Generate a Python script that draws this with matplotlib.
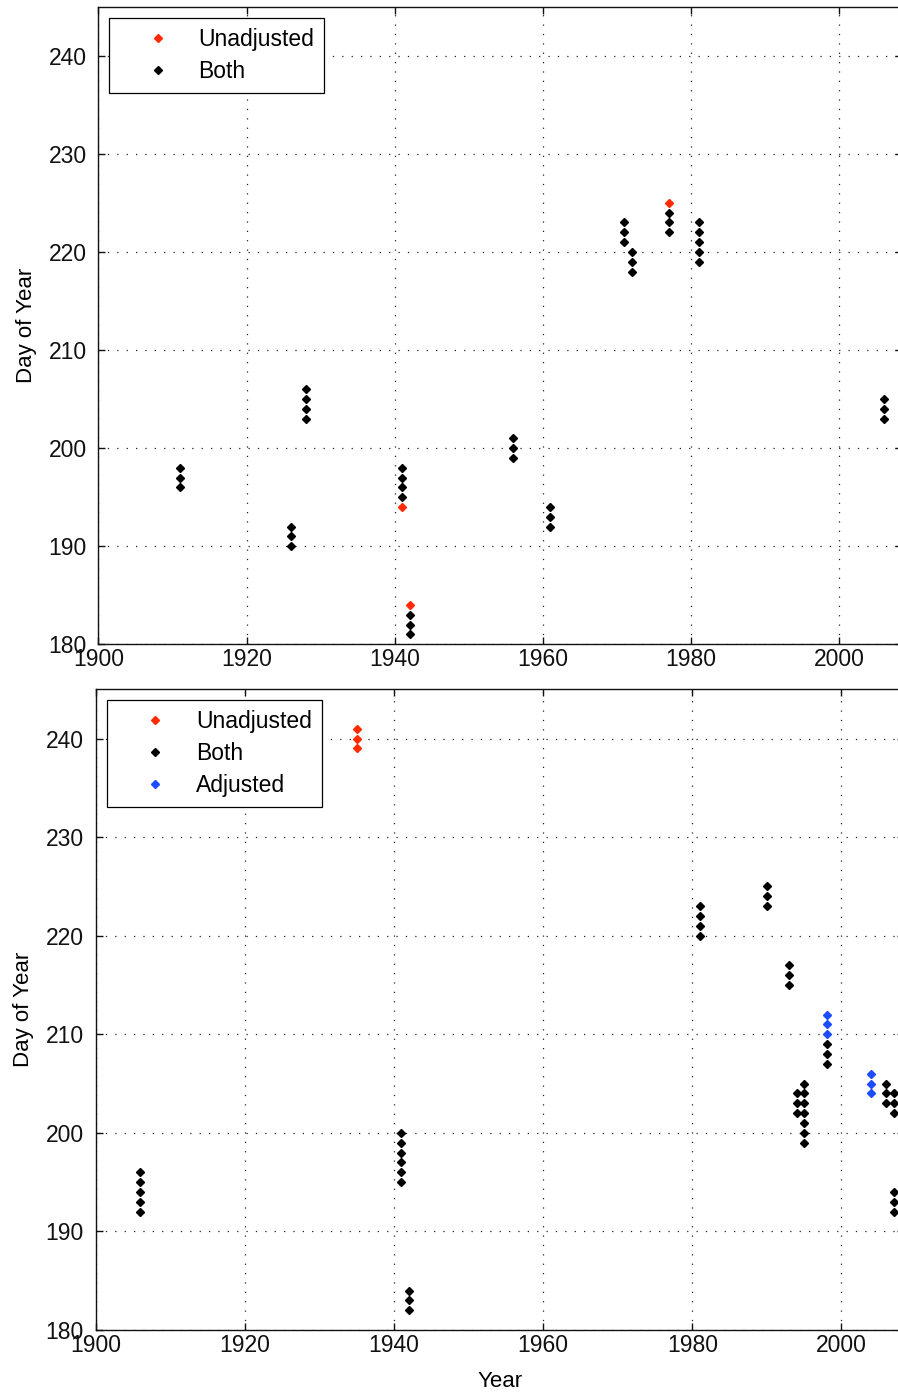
import numpy as np
import matplotlib.pyplot as plt

plt.rcParams['font.family'] = ['Liberation Sans', 'DejaVu Sans']

# upper panel
top_unadj_year = [1941, 1942, 1977]
top_unadj_day = [194, 184, 225]
top_both_year = [1911, 1911, 1911, 1926, 1926, 1926, 1928, 1928, 1928, 1928,
                 1941, 1941, 1941, 1941, 1942, 1942, 1942, 1956, 1956, 1956,
                 1961, 1961, 1961, 1971, 1971, 1971, 1972, 1972, 1972,
                 1977, 1977, 1977, 1981, 1981, 1981, 1981, 1981, 2006, 2006, 2006]
top_both_day = [196, 197, 198, 190, 191, 192, 203, 204, 205, 206,
                195, 196, 197, 198, 181, 182, 183, 199, 200, 201,
                192, 193, 194, 221, 222, 223, 218, 219, 220,
                222, 223, 224, 219, 220, 221, 222, 223, 203, 204, 205]

# lower panel
bot_unadj_year = [1935, 1935, 1935]
bot_unadj_day = [239, 240, 241]
bot_both_year = [1906, 1906, 1906, 1906, 1906,
                 1941, 1941, 1941, 1941, 1941, 1941,
                 1942, 1942, 1942, 1981, 1981, 1981, 1981,
                 1990, 1990, 1990, 1993, 1993, 1993, 1994, 1994, 1994,
                 1995, 1995, 1995, 1995, 1995, 1995, 1995,
                 1998, 1998, 1998, 2006, 2006, 2006,
                 2007, 2007, 2007, 2007, 2007, 2007]
bot_both_day = [192, 193, 194, 195, 196,
                195, 196, 197, 198, 199, 200,
                182, 183, 184, 220, 221, 222, 223,
                223, 224, 225, 215, 216, 217, 202, 203, 204,
                199, 200, 201, 202, 203, 204, 205,
                207, 208, 209, 203, 204, 205,
                192, 193, 194, 202, 203, 204]
bot_adj_year = [1998, 1998, 1998, 2004, 2004, 2004]
bot_adj_day = [210, 211, 212, 204, 205, 206]

xticks = [1900, 1920, 1940, 1960, 1980, 2000]
yticks = [180, 190, 200, 210, 220, 230, 240]

RED = '#ff2a00'
BLUE = '#1c4cff'
FS = 16.5
XMAX = 2008.4

fig = plt.figure(figsize=(8.98, 13.93), dpi=100)
ax1 = fig.add_axes([0.1095, 0.5375, 0.8945, 0.4577])
ax2 = fig.add_axes([0.1066, 0.0452, 0.9002, 0.4600])


def style(ax):
    ax.set_xlim(1900, XMAX)
    ax.set_ylim(180, 245)
    ax.set_xticks(xticks)
    ax.set_yticks(yticks)
    ax.grid(True, color='#222222', lw=0.9, linestyle=(0, (1, 6.5)))
    ax.set_axisbelow(True)
    for s in ax.spines.values():
        s.set_linewidth(1.0)
        s.set_color('#111111')
    ax.tick_params(direction='in', top=True, right=True, length=5, width=1,
                   labelsize=FS, colors='#111111')
    ax.tick_params(axis='x', pad=3)
    ax.tick_params(axis='y', pad=8.5)
    ax.set_ylabel('Day of Year', fontsize=FS - 0.5)
    ax.yaxis.set_label_coords(-0.0758, 0.5)


def legend(ax, handles, x, y):
    leg = ax.legend(handles=handles, loc='upper left', bbox_to_anchor=(x, y),
                    borderaxespad=0, fontsize=FS, handlelength=3.34,
                    handletextpad=0.1, borderpad=0.45, labelspacing=0.38,
                    fancybox=False, framealpha=1, edgecolor='k', numpoints=1)
    leg.get_frame().set_linewidth(0.9)
    leg.set_zorder(10)


mk = dict(marker='D', ls='none', ms=4.2)

style(ax1)
b1, = ax1.plot(top_both_year, top_both_day, color='k', mec='k', label='Both', **mk)
u1, = ax1.plot(top_unadj_year, top_unadj_day, color=RED, mec=RED, label='Unadjusted', **mk)
legend(ax1, [u1, b1], 0.0134, 0.9828)

style(ax2)
b2, = ax2.plot(bot_both_year, bot_both_day, color='k', mec='k', label='Both', **mk)
u2, = ax2.plot(bot_unadj_year, bot_unadj_day, color=RED, mec=RED, label='Unadjusted', **mk)
a2, = ax2.plot(bot_adj_year, bot_adj_day, color=BLUE, mec=BLUE, label='Adjusted', **mk)
legend(ax2, [u2, b2, a2], 0.01366, 0.9833)
ax2.set_xlabel('Year', fontsize=FS - 0.5)
ax2.xaxis.set_label_coords(0.5, -0.0635)

fig.savefig('out.png', dpi=100)
